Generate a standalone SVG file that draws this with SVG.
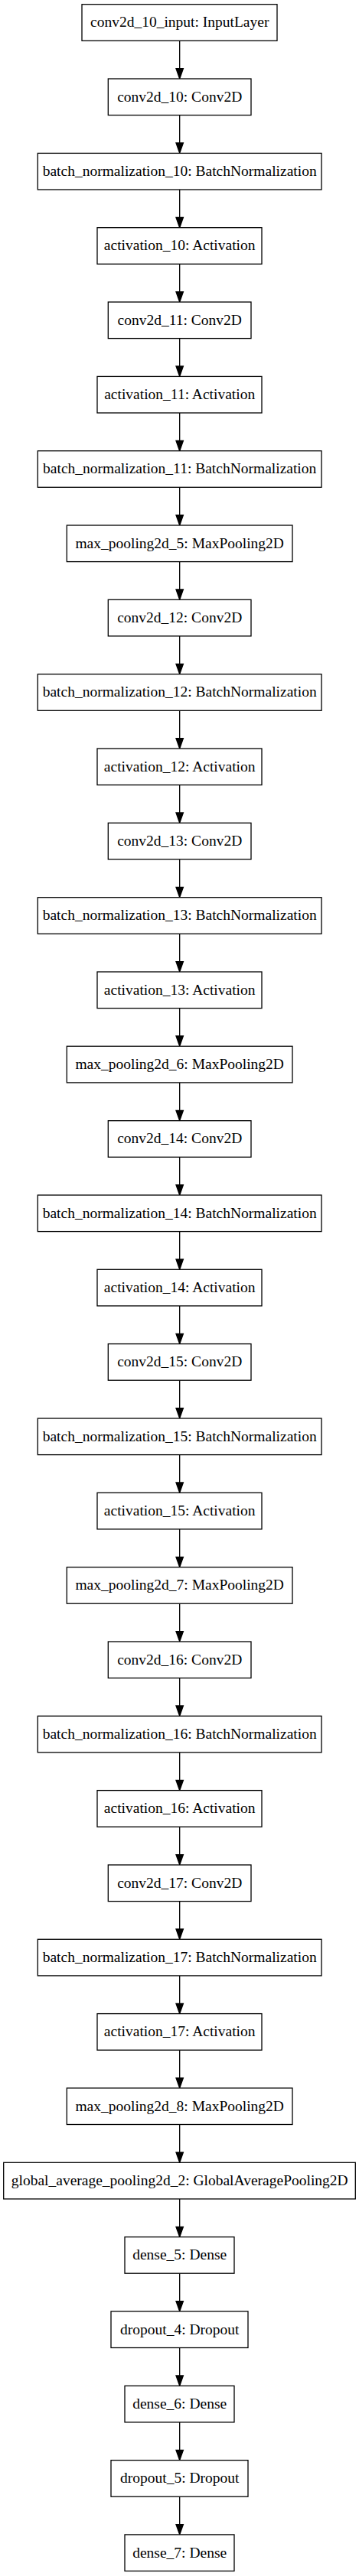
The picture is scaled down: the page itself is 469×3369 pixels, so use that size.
<svg xmlns="http://www.w3.org/2000/svg" xmlns:xlink="http://www.w3.org/1999/xlink" width="469" height="3369" viewBox="0 0 469 3369">
<style>
.n rect{fill:#fff;stroke:#000;stroke-width:1.3}
.n text{font-family:"Liberation Serif","Times New Roman",serif;font-size:19.5px;text-anchor:middle;fill:#000}
.e line{stroke:#000;stroke-width:1.3}
.e polygon{fill:#000;stroke:#000;stroke-width:1.3}
</style>
<defs>
<g id="edge" class="e"><line x1="0" y1="0" x2="0" y2="36.4"/><polygon points="-4.7,36.4 4.7,36.4 0,49.7"/></g>
</defs>
<rect width="469" height="3369" fill="#fff"/>
<g id="connectors">
<use xlink:href="#edge" x="234.7" y="53.3"/>
<use xlink:href="#edge" x="234.7" y="150.6"/>
<use xlink:href="#edge" x="234.7" y="248.0"/>
<use xlink:href="#edge" x="234.7" y="345.3"/>
<use xlink:href="#edge" x="234.7" y="442.6"/>
<use xlink:href="#edge" x="234.7" y="540.0"/>
<use xlink:href="#edge" x="234.7" y="637.3"/>
<use xlink:href="#edge" x="234.7" y="734.6"/>
<use xlink:href="#edge" x="234.7" y="831.9"/>
<use xlink:href="#edge" x="234.7" y="929.3"/>
<use xlink:href="#edge" x="234.7" y="1026.6"/>
<use xlink:href="#edge" x="234.7" y="1123.9"/>
<use xlink:href="#edge" x="234.7" y="1221.3"/>
<use xlink:href="#edge" x="234.7" y="1318.6"/>
<use xlink:href="#edge" x="234.7" y="1415.9"/>
<use xlink:href="#edge" x="234.7" y="1513.3"/>
<use xlink:href="#edge" x="234.7" y="1610.6"/>
<use xlink:href="#edge" x="234.7" y="1707.9"/>
<use xlink:href="#edge" x="234.7" y="1805.2"/>
<use xlink:href="#edge" x="234.7" y="1902.6"/>
<use xlink:href="#edge" x="234.7" y="1999.9"/>
<use xlink:href="#edge" x="234.7" y="2097.2"/>
<use xlink:href="#edge" x="234.7" y="2194.6"/>
<use xlink:href="#edge" x="234.7" y="2291.9"/>
<use xlink:href="#edge" x="234.7" y="2389.2"/>
<use xlink:href="#edge" x="234.7" y="2486.6"/>
<use xlink:href="#edge" x="234.7" y="2583.9"/>
<use xlink:href="#edge" x="234.7" y="2681.2"/>
<use xlink:href="#edge" x="234.7" y="2778.5"/>
<use xlink:href="#edge" x="234.7" y="2875.9"/>
<use xlink:href="#edge" x="234.7" y="2973.2"/>
<use xlink:href="#edge" x="234.7" y="3070.5"/>
<use xlink:href="#edge" x="234.7" y="3167.9"/>
<use xlink:href="#edge" x="234.7" y="3265.2"/>
</g>
<g id="n0" class="n" transform="translate(0,5.7)"><rect x="107" y="0" width="255" height="47.6"/><text x="234.7" y="29.8">conv2d_10_input: InputLayer</text></g>
<g id="n1" class="n" transform="translate(0,103.0)"><rect x="141.3" y="0" width="186.7" height="47.6"/><text x="234.7" y="29.8">conv2d_10: Conv2D</text></g>
<g id="n2" class="n" transform="translate(0,200.4)"><rect x="49.3" y="0" width="370.7" height="47.6"/><text x="234.7" y="29.8">batch_normalization_10: BatchNormalization</text></g>
<g id="n3" class="n" transform="translate(0,297.7)"><rect x="127" y="0" width="215" height="47.6"/><text x="234.7" y="29.8">activation_10: Activation</text></g>
<g id="n4" class="n" transform="translate(0,395.0)"><rect x="141.3" y="0" width="186.7" height="47.6"/><text x="234.7" y="29.8">conv2d_11: Conv2D</text></g>
<g id="n5" class="n" transform="translate(0,492.4)"><rect x="127" y="0" width="215" height="47.6"/><text x="234.7" y="29.8">activation_11: Activation</text></g>
<g id="n6" class="n" transform="translate(0,589.7)"><rect x="49.3" y="0" width="370.7" height="47.6"/><text x="234.7" y="29.8">batch_normalization_11: BatchNormalization</text></g>
<g id="n7" class="n" transform="translate(0,687.0)"><rect x="87.3" y="0" width="294.7" height="47.6"/><text x="234.7" y="29.8">max_pooling2d_5: MaxPooling2D</text></g>
<g id="n8" class="n" transform="translate(0,784.3)"><rect x="141.3" y="0" width="186.7" height="47.6"/><text x="234.7" y="29.8">conv2d_12: Conv2D</text></g>
<g id="n9" class="n" transform="translate(0,881.7)"><rect x="49.3" y="0" width="370.7" height="47.6"/><text x="234.7" y="29.8">batch_normalization_12: BatchNormalization</text></g>
<g id="n10" class="n" transform="translate(0,979.0)"><rect x="127" y="0" width="215" height="47.6"/><text x="234.7" y="29.8">activation_12: Activation</text></g>
<g id="n11" class="n" transform="translate(0,1076.3)"><rect x="141.3" y="0" width="186.7" height="47.6"/><text x="234.7" y="29.8">conv2d_13: Conv2D</text></g>
<g id="n12" class="n" transform="translate(0,1173.7)"><rect x="49.3" y="0" width="370.7" height="47.6"/><text x="234.7" y="29.8">batch_normalization_13: BatchNormalization</text></g>
<g id="n13" class="n" transform="translate(0,1271.0)"><rect x="127" y="0" width="215" height="47.6"/><text x="234.7" y="29.8">activation_13: Activation</text></g>
<g id="n14" class="n" transform="translate(0,1368.3)"><rect x="87.3" y="0" width="294.7" height="47.6"/><text x="234.7" y="29.8">max_pooling2d_6: MaxPooling2D</text></g>
<g id="n15" class="n" transform="translate(0,1465.7)"><rect x="141.3" y="0" width="186.7" height="47.6"/><text x="234.7" y="29.8">conv2d_14: Conv2D</text></g>
<g id="n16" class="n" transform="translate(0,1563.0)"><rect x="49.3" y="0" width="370.7" height="47.6"/><text x="234.7" y="29.8">batch_normalization_14: BatchNormalization</text></g>
<g id="n17" class="n" transform="translate(0,1660.3)"><rect x="127" y="0" width="215" height="47.6"/><text x="234.7" y="29.8">activation_14: Activation</text></g>
<g id="n18" class="n" transform="translate(0,1757.6)"><rect x="141.3" y="0" width="186.7" height="47.6"/><text x="234.7" y="29.8">conv2d_15: Conv2D</text></g>
<g id="n19" class="n" transform="translate(0,1855.0)"><rect x="49.3" y="0" width="370.7" height="47.6"/><text x="234.7" y="29.8">batch_normalization_15: BatchNormalization</text></g>
<g id="n20" class="n" transform="translate(0,1952.3)"><rect x="127" y="0" width="215" height="47.6"/><text x="234.7" y="29.8">activation_15: Activation</text></g>
<g id="n21" class="n" transform="translate(0,2049.6)"><rect x="87.3" y="0" width="294.7" height="47.6"/><text x="234.7" y="29.8">max_pooling2d_7: MaxPooling2D</text></g>
<g id="n22" class="n" transform="translate(0,2147.0)"><rect x="141.3" y="0" width="186.7" height="47.6"/><text x="234.7" y="29.8">conv2d_16: Conv2D</text></g>
<g id="n23" class="n" transform="translate(0,2244.3)"><rect x="49.3" y="0" width="370.7" height="47.6"/><text x="234.7" y="29.8">batch_normalization_16: BatchNormalization</text></g>
<g id="n24" class="n" transform="translate(0,2341.6)"><rect x="127" y="0" width="215" height="47.6"/><text x="234.7" y="29.8">activation_16: Activation</text></g>
<g id="n25" class="n" transform="translate(0,2439.0)"><rect x="141.3" y="0" width="186.7" height="47.6"/><text x="234.7" y="29.8">conv2d_17: Conv2D</text></g>
<g id="n26" class="n" transform="translate(0,2536.3)"><rect x="49.3" y="0" width="370.7" height="47.6"/><text x="234.7" y="29.8">batch_normalization_17: BatchNormalization</text></g>
<g id="n27" class="n" transform="translate(0,2633.6)"><rect x="127" y="0" width="215" height="47.6"/><text x="234.7" y="29.8">activation_17: Activation</text></g>
<g id="n28" class="n" transform="translate(0,2730.9)"><rect x="87.3" y="0" width="294.7" height="47.6"/><text x="234.7" y="29.8">max_pooling2d_8: MaxPooling2D</text></g>
<g id="n29" class="n" transform="translate(0,2828.3)"><rect x="4.7" y="0" width="459.6" height="47.6"/><text x="234.7" y="29.8">global_average_pooling2d_2: GlobalAveragePooling2D</text></g>
<g id="n30" class="n" transform="translate(0,2925.6)"><rect x="163" y="0" width="143" height="47.6"/><text x="234.7" y="29.8">dense_5: Dense</text></g>
<g id="n31" class="n" transform="translate(0,3022.9)"><rect x="145" y="0" width="179" height="47.6"/><text x="234.7" y="29.8">dropout_4: Dropout</text></g>
<g id="n32" class="n" transform="translate(0,3120.3)"><rect x="163" y="0" width="143" height="47.6"/><text x="234.7" y="29.8">dense_6: Dense</text></g>
<g id="n33" class="n" transform="translate(0,3217.6)"><rect x="145" y="0" width="179" height="47.6"/><text x="234.7" y="29.8">dropout_5: Dropout</text></g>
<g id="n34" class="n" transform="translate(0,3314.9)"><rect x="163" y="0" width="143" height="47.6"/><text x="234.7" y="29.8">dense_7: Dense</text></g>
</svg>
